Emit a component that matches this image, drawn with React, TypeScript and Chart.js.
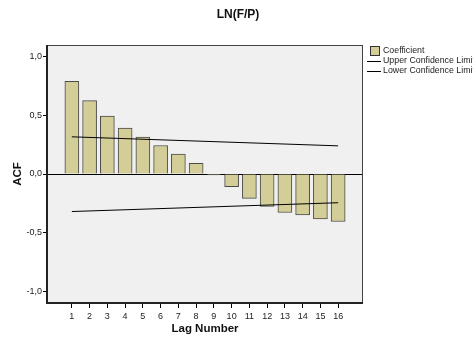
import React, { useEffect, useRef } from "react";
import { Chart, registerables } from "chart.js";

Chart.register(...registerables);

const lags = [1, 2, 3, 4, 5, 6, 7, 8, 9, 10, 11, 12, 13, 14, 15, 16];
const acf = [0.791, 0.626, 0.494, 0.391, 0.314, 0.243, 0.169, 0.092, -0.008, -0.109, -0.208, -0.277, -0.328, -0.349, -0.383, -0.405];
const limitLags = [1, 16];
const upperLimit = [0.317, 0.24];
const lowerLimit = [-0.32, -0.245];
const yTicks = [-1, -0.5, 0, 0.5, 1];
const yTickLabels = ["-1,0", "-0,5", "0,0", "0,5", "1,0"];
const titleText = "LN(F/P)";
const xTitle = "Lag Number";
const yTitle = "ACF";
const legendLabels = ["Coefficient", "Upper Confidence Limit", "Lower Confidence Limit"];

const FONT = "'Liberation Sans', Arial, sans-serif";
const BAR_FILL = "#d3ce97";
const BAR_BORDER = "#4a4a4a";

export default function App() {
  const ref = useRef<HTMLCanvasElement | null>(null);

  useEffect(() => {
    document.body.style.margin = "0";
    const canvas = ref.current!;
    const decor = {
      id: "decor",
      beforeDatasetsDraw(chart: any) {
        const { ctx, chartArea: a } = chart;
        ctx.save();
        ctx.fillStyle = "#f0f0f0";
        ctx.fillRect(a.left, a.top, a.right - a.left, a.bottom - a.top);
        const y0 = chart.scales.y.getPixelForValue(0);
        ctx.strokeStyle = "#000";
        ctx.lineWidth = 1;
        ctx.beginPath();
        ctx.moveTo(a.left, Math.round(y0) + 0.5);
        ctx.lineTo(a.right, Math.round(y0) + 0.5);
        ctx.stroke();
        ctx.restore();
      },
      afterDraw(chart: any) {
        const { ctx, chartArea: a } = chart;
        ctx.save();
        // border
        ctx.strokeStyle = "#444";
        ctx.lineWidth = 1;
        ctx.strokeRect(a.left + 0.5, a.top + 0.5, a.right - a.left - 1, a.bottom - a.top - 1);
        ctx.strokeStyle = "#222";
        ctx.lineWidth = 2;
        ctx.beginPath();
        ctx.moveTo(a.left, a.top);
        ctx.lineTo(a.left, a.bottom);
        ctx.lineTo(a.right, a.bottom);
        ctx.stroke();
        // title
        ctx.fillStyle = "#111";
        ctx.font = `bold 12px ${FONT}`;
        ctx.textAlign = "center";
        ctx.textBaseline = "middle";
        ctx.fillText(titleText, 238, 15);
        // axis titles
        ctx.font = `bold 11.5px ${FONT}`;
        ctx.fillText(xTitle, (a.left + a.right) / 2, 329);
        ctx.save();
        ctx.translate(18, (a.top + a.bottom) / 2);
        ctx.rotate(-Math.PI / 2);
        ctx.fillText(yTitle, 0, 0);
        ctx.restore();
        // legend
        ctx.font = `8.8px ${FONT}`;
        ctx.textAlign = "left";
        ctx.fillStyle = BAR_FILL;
        ctx.fillRect(370.5, 46.5, 9, 9);
        ctx.strokeStyle = "#333";
        ctx.lineWidth = 1;
        ctx.strokeRect(370.5, 46.5, 9, 9);
        ctx.strokeStyle = "#000";
        ctx.beginPath();
        ctx.moveTo(367, 61.5);
        ctx.lineTo(381, 61.5);
        ctx.moveTo(367, 71.5);
        ctx.lineTo(381, 71.5);
        ctx.stroke();
        ctx.fillStyle = "#222";
        ctx.fillText(legendLabels[0], 383, 51);
        ctx.fillText(legendLabels[1], 383, 61);
        ctx.fillText(legendLabels[2], 383, 71);
        ctx.restore();
      },
    };

    const chart = new Chart(canvas, {
      type: "bar",
      data: {
        datasets: [
          {
            type: "bar",
            label: legendLabels[0],
            data: lags.map((l, i) => ({ x: l, y: acf[i] })),
            backgroundColor: BAR_FILL,
            borderColor: BAR_BORDER,
            borderWidth: 1,
            barThickness: 14,
            order: 2,
          } as any,
          {
            type: "line",
            label: legendLabels[1],
            data: limitLags.map((l, i) => ({ x: l, y: upperLimit[i] })),
            borderColor: "#000",
            borderWidth: 1,
            pointRadius: 0,
            order: 1,
          },
          {
            type: "line",
            label: legendLabels[2],
            data: limitLags.map((l, i) => ({ x: l, y: lowerLimit[i] })),
            borderColor: "#000",
            borderWidth: 1,
            pointRadius: 0,
            order: 1,
          },
        ],
      },
      options: {
        animation: false,
        responsive: false,
        maintainAspectRatio: false,
        layout: { padding: { top: 45, right: 110, left: 0, bottom: 0 } },
        plugins: { legend: { display: false }, title: { display: false }, tooltip: { enabled: false } },
        scales: {
          x: {
            type: "linear",
            min: -0.4,
            max: 17.4,
            offset: false,
            afterBuildTicks: (s: any) => {
              s.ticks = lags.map((v) => ({ value: v }));
            },
            afterFit: (s: any) => {
              s.height = 35;
            },
            ticks: {
              autoSkip: false,
              maxRotation: 0,
              padding: 3,
              color: "#222",
              font: { family: FONT, size: 9 },
              callback: (v: any) => String(v),
            },
            grid: { display: true, offset: false, drawOnChartArea: false, drawTicks: true, tickLength: 5, tickColor: "#000", color: "transparent" },
            border: { display: false },
          },
          y: {
            type: "linear",
            min: -1.1,
            max: 1.1,
            afterBuildTicks: (s: any) => {
              s.ticks = yTicks.map((v) => ({ value: v }));
            },
            afterFit: (s: any) => {
              s.width = 47;
            },
            ticks: {
              padding: 1,
              color: "#222",
              font: { family: FONT, size: 9 },
              callback: (v: any) => {
                const i = yTicks.indexOf(Number(v));
                return i >= 0 ? yTickLabels[i] : "";
              },
            },
            grid: { display: true, drawOnChartArea: false, drawTicks: true, tickLength: 4, tickColor: "#000", color: "transparent" },
            border: { display: false },
          },
        },
      },
      plugins: [decor],
    } as any);
    return () => chart.destroy();
  }, []);

  return (
    <div style={{ width: 473, height: 338, background: "#fff" }}>
      <canvas ref={ref} width={473} height={338} style={{ display: "block", width: 473, height: 338 }} />
    </div>
  );
}
